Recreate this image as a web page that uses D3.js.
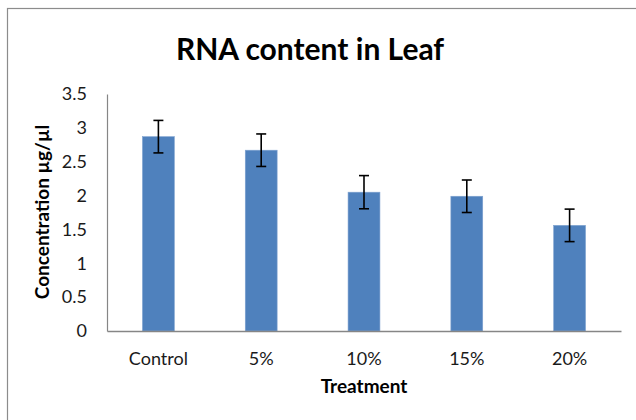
<!DOCTYPE html>
<html>
<head>
<meta charset="utf-8">
<script src="https://cdn.jsdelivr.net/npm/d3@7"></script>
<style>
  body { margin: 0; background: #fff; }
  svg { display: block; font-family: Lato, "Open Sans", sans-serif; }
</style>
</head>
<body>
<div id="chart"></div>
<script>
// Chart data
const categories = ["Control", "5%", "10%", "15%", "20%"];
const means      = [2.87, 2.67, 2.05, 1.99, 1.56];
const errors     = [0.24, 0.24, 0.245, 0.24, 0.24];
const yTicks     = [0, 0.5, 1, 1.5, 2, 2.5, 3, 3.5];

const width = 636, height = 420;
const margin = { top: 94, right: 15, bottom: 89, left: 107 };

const svg = d3.select("#chart")
  .append("svg")
  .attr("width", width)
  .attr("height", height);

// Outer chart frame (right/bottom edges fall outside the picture)
svg.append("rect")
  .attr("x", 7.5).attr("y", 8.5)
  .attr("width", 640).attr("height", 420)
  .attr("fill", "none")
  .attr("stroke", "#8c8c8c")
  .attr("stroke-width", 1.2);

const x = d3.scaleBand()
  .domain(categories)
  .range([margin.left, width - margin.right])
  .paddingInner(0.69)
  .paddingOuter(0.345);

const y = d3.scaleLinear()
  .domain([0, 3.5])
  .range([height - margin.bottom, margin.top]);

// Bars
svg.append("g")
  .selectAll("rect")
  .data(categories)
  .join("rect")
  .attr("x", d => x(d))
  .attr("y", (d, i) => y(means[i]))
  .attr("width", x.bandwidth())
  .attr("height", (d, i) => y(0) - y(means[i]))
  .attr("fill", "#4f81bd")
  .attr("stroke", "#7fa2d0")
  .attr("stroke-width", 0.6);

// Error bars
const eb = svg.append("g")
  .attr("stroke", "#000")
  .attr("stroke-width", 1.6);

categories.forEach((c, i) => {
  const cx = x(c) + x.bandwidth() / 2;
  const hi = y(means[i] + errors[i]);
  const lo = y(means[i] - errors[i]);
  eb.append("line").attr("x1", cx).attr("x2", cx).attr("y1", hi).attr("y2", lo);
  eb.append("line").attr("x1", cx - 5).attr("x2", cx + 5).attr("y1", hi).attr("y2", hi);
  eb.append("line").attr("x1", cx - 5).attr("x2", cx + 5).attr("y1", lo).attr("y2", lo);
});

// Y axis
const yAxis = svg.append("g")
  .attr("transform", `translate(${margin.left},0)`)
  .call(d3.axisLeft(y).tickValues(yTicks).tickSize(0).tickPadding(20).tickFormat(d3.format("")));
yAxis.select(".domain").attr("stroke", "#868686").attr("stroke-width", 1.2);
yAxis.selectAll("text").attr("font-size", 18).attr("fill", "#1a1a1a")
  .attr("font-family", "Lato, 'Open Sans', sans-serif");

// X axis
const xAxis = svg.append("g")
  .attr("transform", `translate(0,${y(0)})`)
  .call(d3.axisBottom(x).tickSize(0).tickPadding(21));
xAxis.select(".domain").attr("stroke", "#868686").attr("stroke-width", 1.6);
xAxis.selectAll("text").attr("font-size", 18).attr("fill", "#1a1a1a")
  .attr("font-family", "Lato, 'Open Sans', sans-serif");

// Title
svg.append("text")
  .attr("x", 310).attr("y", 60)
  .attr("text-anchor", "middle")
  .attr("font-size", 30)
  .attr("font-weight", "bold")
  .text("RNA content in Leaf");

// Axis titles
svg.append("text")
  .attr("x", 364).attr("y", 393)
  .attr("text-anchor", "middle")
  .attr("font-size", 19)
  .attr("font-weight", "bold")
  .text("Treatment");

svg.append("text")
  .attr("transform", "translate(49,212) rotate(-90)")
  .attr("text-anchor", "middle")
  .attr("font-size", 19)
  .attr("font-weight", "bold")
  .text("Concentration µg/µl");
</script>
</body>
</html>
